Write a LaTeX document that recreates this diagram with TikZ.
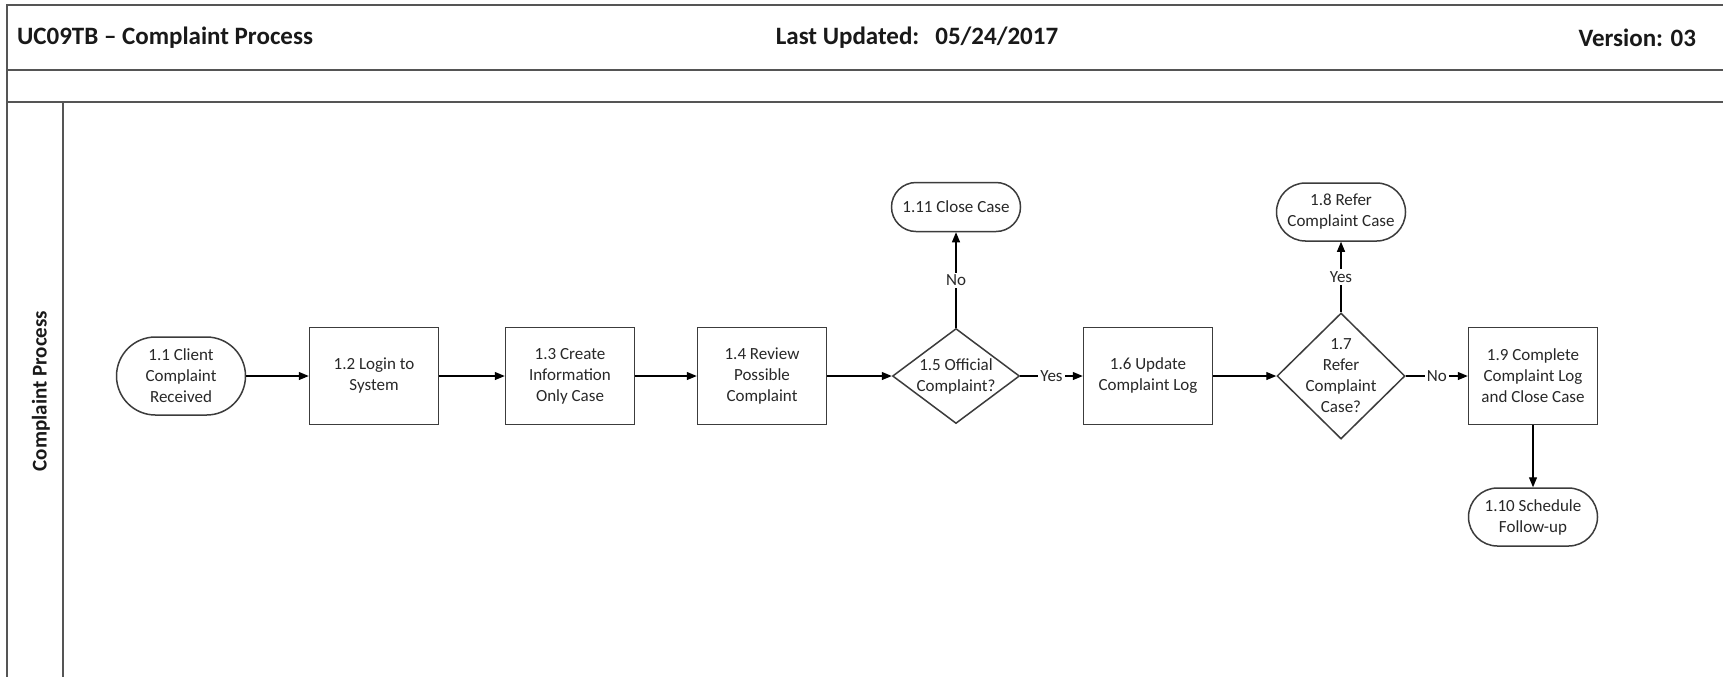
\documentclass[tikz,border=0pt]{standalone}
\usepackage{fontspec}
\setmainfont{Carlito}
\usepackage{tikz}
\usetikzlibrary{shapes.geometric, arrows.meta}
\definecolor{UCLine}{RGB}{85,85,85}
\definecolor{UCEdge}{RGB}{60,60,60}
\definecolor{UCText}{RGB}{40,40,40}

\begin{document}
\begin{tikzpicture}[x=0.5pt, y=-0.5pt,
          pbox/.style={rectangle, draw=UCEdge, line width=0.75pt, minimum width=64.5pt,
                       minimum height=48.5pt, align=center, text=UCText,
                       font=\fontsize{8.5}{10.5}\selectfont},
          term/.style={pbox, rounded corners=14.5pt, minimum height=29pt},
          dec/.style={diamond, draw=UCEdge, line width=0.75pt, inner sep=0pt,
                      minimum width=63.5pt, minimum height=47.5pt},
          dectext/.style={align=center, text=UCText, inner sep=0pt,
                          font=\fontsize{8.5}{10.5}\selectfont},
          arr/.style={-{Triangle[length=5pt, width=4pt]}, draw=black, line width=0.6pt},
          lbl/.style={fill=white, inner sep=1pt, text=UCText,
                      font=\fontsize{8.5}{10.5}\selectfont},
          hdr/.style={font=\bfseries\fontsize{12.5}{15}\selectfont, text=black!90},
          frame/.style={draw=UCLine, line width=1pt}
        ]
        \path[use as bounding box, fill=white] (0,0) rectangle (1723,677);

        % Header and swimlane frame
        \draw[frame] (1723,5) -- (7,5) -- (7,677);
        \draw[frame] (7,70) -- (1723,70);
        \draw[frame] (7,102) -- (1723,102);
        \draw[frame] (63,102) -- (63,677);

        \node[hdr, anchor=west] (title) at (10,38) {UC09TB -- Complaint Process};
        \node[hdr] (updated) at (917,38) {Last Updated:\hspace{8pt}05/24/2017};
        \node[hdr, anchor=east] (version) at (1703,38) {Version: 03};

        % Lane name
        \node[rotate=90, font=\bfseries\fontsize{10.5}{12}\selectfont, text=black!90]
              (lane) at (41,391) {Complaint Process};

        % Main row
        \node[term, minimum height=39pt, rounded corners=19.5pt]
              (c1) at (181,376) {1.1 Client\\Complaint\\Received};
        \node[pbox] (c2) at (374,376) {1.2 Login to\\System};
        \node[pbox] (c3) at (570,376) {1.3 Create\\Information\\Only Case};
        \node[pbox] (c4) at (762,376) {1.4 Review\\Possible\\Complaint};
        \node[dec, label={[dectext]center:{1.5 Official\\Complaint?}}]
              (d5) at (956,376) {};
        \node[pbox] (c6) at (1148,376) {1.6 Update\\Complaint Log};
        \node[dec, minimum width=64pt, minimum height=63pt,
              label={[dectext]center:{1.7\\Refer\\Complaint\\Case?}}]
              (d7) at (1341,376) {};
        \node[pbox] (c9) at (1533,376) {1.9 Complete\\Complaint Log\\and Close Case};

        % Side exits
        \node[term, minimum height=24.5pt, rounded corners=12.25pt]
              (t11) at (956,207) {1.11 Close Case};
        \node[term] (t8) at (1341,212) {1.8 Refer\\Complaint Case};
        \node[term] (t10) at (1533,517) {1.10 Schedule\\Follow-up};

        % Flow
        \draw[arr] (c1.east) -- (c2.west);
        \draw[arr] (c2.east) -- (c3.west);
        \draw[arr] (c3.east) -- (c4.west);
        \draw[arr] (c4.east) -- (d5.west);
        \draw[arr] (d5.east) -- node[lbl] {Yes} (c6.west);
        \draw[arr] (d5.north) -- node[lbl] {No} (t11.south);
        \draw[arr] (c6.east) -- (d7.west);
        \draw[arr] (d7.north) -- node[lbl] {Yes} (t8.south);
        \draw[arr] (d7.east) -- node[lbl] {No} (c9.west);
        \draw[arr] (c9.south) -- (t10.north);
      \end{tikzpicture}
\end{document}
